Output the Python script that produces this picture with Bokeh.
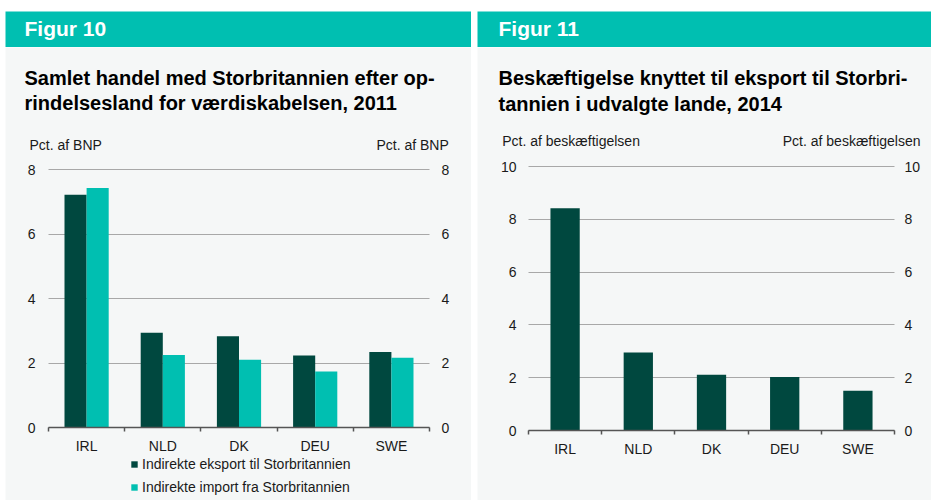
from bokeh.plotting import figure
from bokeh.models import (Range1d, LinearAxis, FixedTicker, Label, Spacer, ColumnDataSource)
from bokeh.layouts import row, column
from bokeh.transform import dodge
from bokeh.embed import file_html
from bokeh.resources import INLINE

FONT = "Liberation Sans"
TEAL = "#00bfb1"
DARK = "#00483f"
BG = "#f5f7f7"
GRID = "#a8a8a8"
AXIS = "#555555"
TXT = "#1a1a1a"

# ---- data ----
countries = ["IRL", "NLD", "DK", "DEU", "SWE"]
export_gdp = [7.22, 2.94, 2.83, 2.23, 2.34]
import_gdp = [7.43, 2.25, 2.10, 1.74, 2.16]
employment = [8.42, 2.95, 2.11, 2.03, 1.51]
left_ticks = [0, 2, 4, 6, 8]
right_ticks = [0, 2, 4, 6, 8, 10]

fig10_header = "Figur 10"
fig10_title = ["Samlet handel med Storbritannien efter op-",
               "rindelsesland for værdiskabelsen, 2011"]
fig10_unit = "Pct. af BNP"
fig10_series = ["Indirekte eksport til Storbritannien", "Indirekte import fra Storbritannien"]

fig11_header = "Figur 11"
fig11_title = ["Beskæftigelse knyttet til eksport til Storbri-",
               "tannien i udvalgte lande, 2014"]
fig11_unit = "Pct. af beskæftigelsen"

# category slots: each country occupies one unit, centred at i + 0.5
n = len(countries)
slot_centres = [i + 0.5 for i in range(n)]
slot_edges = list(range(n + 1))

HEADER_H = 36
PANEL_H = 453


def header(width, text, x):
    h = figure(width=width, height=HEADER_H, x_range=Range1d(0, 1), y_range=Range1d(0, 1),
               x_axis_type=None, y_axis_type=None, toolbar_location=None,
               output_backend="svg", min_border=0, background_fill_color=TEAL,
               border_fill_color=TEAL, outline_line_color=None)
    h.add_layout(Label(x=x, y=19, x_units="screen", y_units="screen", text=text,
                       text_font=FONT, text_font_size="21px", text_font_style="bold",
                       text_color="white", text_baseline="middle"))
    return h


def panel(width, box, ymax, ticks, lstand, rstand, cat_stand):
    # box = (left, right, top, bottom) of the plotting area in canvas pixels
    bl, br, bt, bb = box
    xpx = (br - bl) / n
    ypx = (bb - bt) / ymax
    xr = Range1d(-bl / xpx, n + (width - br) / xpx)
    yr = Range1d(-(PANEL_H - bb) / ypx, ymax + bt / ypx)
    p = figure(width=width, height=PANEL_H, x_range=xr, y_range=yr,
               x_axis_type=None, y_axis_type=None, toolbar_location=None,
               output_backend="svg", min_border=0,
               background_fill_color=BG, border_fill_color=BG, outline_line_color=None)
    tk = FixedTicker(ticks=ticks)
    # left axis: labels + horizontal grid lines (ticks drawn inward across the plotting area)
    lax = LinearAxis(ticker=tk, fixed_location=0, bounds=(0, ymax), axis_line_color=None,
                     major_tick_line_color=GRID, major_tick_line_width=1,
                     major_tick_out=0, major_tick_in=int(round(br - bl)),
                     minor_tick_line_color=None, major_label_standoff=lstand,
                     major_label_text_font=FONT, major_label_text_font_size="14px",
                     major_label_text_color=TXT, level="underlay")
    p.add_layout(lax, "left")
    rax = LinearAxis(ticker=tk, fixed_location=n, bounds=(0, ymax), axis_line_color=None,
                     major_tick_line_color=None, major_tick_out=0, major_tick_in=0,
                     minor_tick_line_color=None, major_label_standoff=rstand,
                     major_label_text_font=FONT, major_label_text_font_size="14px",
                     major_label_text_color=TXT)
    p.add_layout(rax, "right")
    bax = LinearAxis(ticker=FixedTicker(ticks=slot_centres, minor_ticks=slot_edges),
                     fixed_location=0, bounds=(0, n),
                     major_label_overrides={c: name for c, name in zip(slot_centres, countries)},
                     axis_line_color=AXIS, axis_line_width=1.5,
                     major_tick_line_color=None, major_tick_out=0, major_tick_in=0,
                     minor_tick_line_color=AXIS, minor_tick_line_width=1.5,
                     minor_tick_out=4, minor_tick_in=0,
                     major_label_standoff=cat_stand, major_label_text_font=FONT,
                     major_label_text_font_size="14px", major_label_text_color=TXT)
    p.add_layout(bax, "below")
    return p


def text_label(p, x, y, text, size, bold=False, align="left"):
    p.add_layout(Label(x=x, y=y, x_units="screen", y_units="screen", text=text,
                       text_font=FONT, text_font_size=size,
                       text_font_style="bold" if bold else "normal",
                       text_color="black" if bold else TXT, text_align=align,
                       text_baseline="middle"))


# ---- Figure 10 (canvas x 5..471, y 47..500 on the page) ----
h1 = header(466, fig10_header, 19)
p1 = panel(466, (43, 424, 122, 380), 8, left_ticks, 13, 12, 6)
src1 = ColumnDataSource(dict(x=slot_centres, exp=export_gdp, imp=import_gdp))
p1.vbar(x=dodge("x", -0.145), top="exp", width=0.29, source=src1,
        fill_color=DARK, line_color=None, legend_label=fig10_series[0])
p1.vbar(x=dodge("x", 0.145), top="imp", width=0.29, source=src1,
        fill_color=TEAL, line_color=None, legend_label=fig10_series[1])
leg = p1.legend[0]
leg.location = (125, 5)
leg.glyph_width = 8
leg.glyph_height = 8
leg.label_height = 16
leg.spacing = 7
leg.padding = 0
leg.margin = 0
leg.label_standoff = 4
leg.label_text_font = FONT
leg.label_text_font_size = "14px"
leg.label_text_color = TXT
leg.background_fill_alpha = 0
leg.border_line_color = None
text_label(p1, 19, 422.5, fig10_title[0], "20px", bold=True)
text_label(p1, 19, 397.5, fig10_title[1], "20px", bold=True)
text_label(p1, 24, 355.7, fig10_unit, "14px")
text_label(p1, 443.3, 355.7, fig10_unit, "14px", align="right")

# ---- Figure 11 (canvas x 477..931, y 47..500 on the page) ----
h2 = header(454, fig11_header, 21)
p2 = panel(454, (51, 417, 119, 383), 10, right_ticks, 12, 10, 6)
src2 = ColumnDataSource(dict(x=slot_centres, emp=employment))
p2.vbar(x="x", top="emp", width=0.4, source=src2, fill_color=DARK, line_color=None)
text_label(p2, 21, 422.3, fig11_title[0], "20px", bold=True)
text_label(p2, 21, 396.7, fig11_title[1], "20px", bold=True)
text_label(p2, 24.7, 359.7, fig11_unit, "14px")
text_label(p2, 443, 359.7, fig11_unit, "14px", align="right")

layout = column(Spacer(width=10, height=11),
                row(Spacer(width=5, height=10), column(h1, p1),
                    Spacer(width=6, height=10), column(h2, p2)))

open("out.html", "w").write(file_html(layout, INLINE))
